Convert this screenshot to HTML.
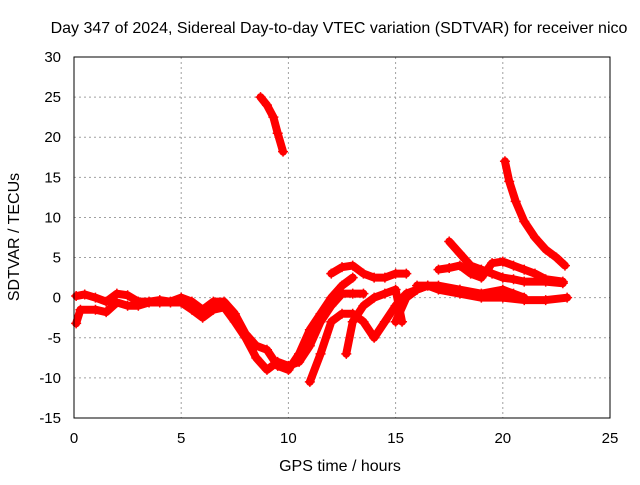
<!DOCTYPE html>
<html><head><meta charset="utf-8"><style>
body{margin:0;background:#fff}
text{font-family:"Liberation Sans",sans-serif;font-size:15px;fill:#000}
.big{font-size:16px}
</style></head><body>
<svg id="chart" width="640" height="480">
<rect width="640" height="480" fill="#fff"/>
<g id="grid"></g>
<g id="series"></g>
<rect x="74" y="57" width="536" height="361" fill="none" stroke="#000" stroke-width="1"/>
<g id="ticks"></g>
<text class="big" x="339" y="33" text-anchor="middle">Day 347 of 2024, Sidereal Day-to-day VTEC variation (SDTVAR) for receiver nico</text>
<text class="big" x="340" y="471" text-anchor="middle">GPS time / hours</text>
<text class="big" transform="translate(19,237) rotate(-90)" text-anchor="middle">SDTVAR / TECUs</text>
</svg>
<script>
const xTicks=[0,5,10,15,20,25];
const yTicks=[-15,-10,-5,0,5,10,15,20,25,30];
const trackMain=[[0.1,-3.2],[0.3,-1.5],[1,-1.5],[1.5,-1.8],[2,-0.6],[2.5,-1],[3,-1],[3.5,-0.6],[4,-0.6],[4.5,-0.6],[5,-0.6],[5.5,-1.5],[6,-2.5],[6.5,-1.5],[7,-1.2],[7.5,-3],[8,-5],[8.5,-7.5],[9,-9],[9.5,-8],[10,-8.5],[10.5,-8],[11,-6],[11.5,-3],[12,-1],[12.5,0.5],[13,0.5],[13.5,0.5]];
const trackUpper=[[0.1,0.2],[0.5,0.4],[1,0],[1.5,-0.5],[2,0.5],[2.5,0.3],[3,-0.5],[3.5,-0.5],[4,-0.3],[4.5,-0.5],[5,0],[5.5,-0.5],[6,-1.5],[6.5,-0.5],[7,-0.5],[7.5,-2],[8,-4.5],[8.5,-6],[9,-6.5],[9.5,-8.5],[10,-9],[10.5,-7],[11,-4],[11.5,-2],[12,0],[12.5,1.5],[13,2.5]];
const trackPeak=[[8.7,25],[9,24],[9.3,22.5],[9.5,20.5],[9.75,18.2]];
const trackDusk=[[20.1,17],[20.3,14.5],[20.6,12],[21,9.5],[21.5,7.5],[22,6],[22.5,5],[22.9,4]];
const trackMid=[[12,3],[12.5,3.8],[13,4],[13.5,3],[14,2.5],[14.5,2.5],[15,3],[15.5,3]];
const trackEve1=[[17.5,7],[18,5.5],[18.5,4],[19,3.5],[19.5,3],[20,2.5],[20.5,2.3],[21,2],[22,2],[22.8,1.8]];
const trackEve2=[[17,3.5],[17.5,3.7],[18,4],[18.5,3],[19,2.5],[19.5,4.3],[20,4.5],[20.5,4],[21,3.5],[21.5,3],[22,2.3],[22.8,2]];
const trackLow=[[11,-10.5],[11.5,-7],[12,-3],[12.5,-2],[13,-2],[13.5,-3],[14,-5],[14.5,-3],[15,-1],[15.5,0.5],[16,1],[16.5,1.5]];
const trackLow2=[[12.7,-7],[13,-3],[13.5,-1],[14,0],[14.5,0.5],[15,1],[15.3,-3]];
const trackLate=[[15,-3],[15.5,0],[16,1],[16.5,1.5],[17,1],[18,0.5],[19,0],[20,0],[21,-0.3],[22,-0.3],[23,0]];
const trackLate2=[[16,1.5],[17,1.5],[18,1],[19,0.5],[20,1],[20.5,0.5],[21,0]];
const tracks=[trackMain,trackUpper,trackPeak,trackDusk,trackMid,trackEve1,trackEve2,trackLow,trackLow2,trackLate,trackLate2];
const X=v=>74+v*536/25, Y=v=>418-(v+15)*361/45;
const NS='http://www.w3.org/2000/svg';
const grid=document.getElementById('grid'),ticks=document.getElementById('ticks'),ser=document.getElementById('series');
function mk(tag,attrs,parent){const e=document.createElementNS(NS,tag);for(const k in attrs)e.setAttribute(k,attrs[k]);parent.appendChild(e);return e;}
xTicks.forEach(t=>{
  if(t>0&&t<25){const l=mk('line',{x1:X(t),x2:X(t),y1:57,y2:418,stroke:'#a0a0a0','stroke-dasharray':'2,3'},grid);
  
  }
  const tx=mk('text',{x:X(t),y:443,'text-anchor':'middle'},ticks);tx.textContent=t;
  
  
});
yTicks.forEach(t=>{
  if(t>-15&&t<30){const l=mk('line',{x1:74,x2:610,y1:Y(t),y2:Y(t),stroke:'#a0a0a0','stroke-dasharray':'2,3'},grid);
  
  }
  const tx=mk('text',{x:61,y:Y(t)+5,'text-anchor':'end'},ticks);tx.textContent=t;
  
  
});
tracks.forEach(tr=>{
  const p=mk('polyline',{points:tr.map(d=>X(d[0])+','+Y(d[1])).join(' '),fill:'none',stroke:'#f00','stroke-width':8,'stroke-linejoin':'round','stroke-linecap':'round'},ser);
  
  
  tr.forEach(d=>{
    const x=X(d[0]),y=Y(d[1]);
    const m=mk('path',{d:`M${x-5},${y}H${x+5}M${x},${y-5}V${y+5}`,stroke:'#f00','stroke-width':1.5},ser);
    
    
  });
});
</script>
</body></html>
